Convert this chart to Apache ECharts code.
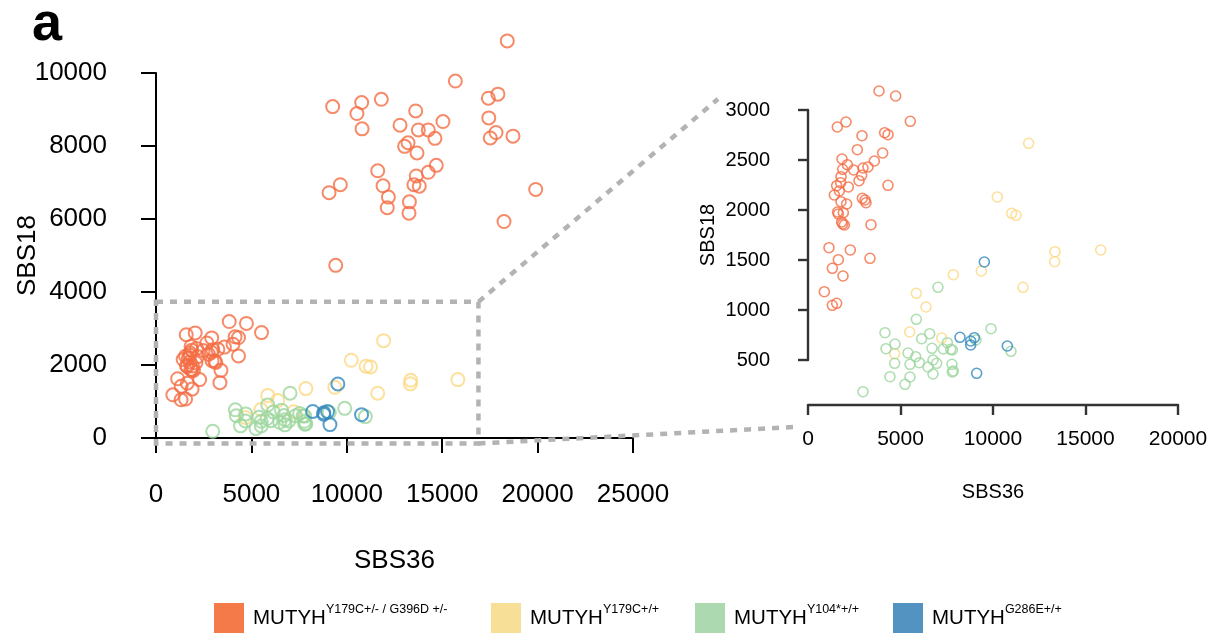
<!DOCTYPE html>
<html><head><meta charset="utf-8">
<script src="https://cdn.jsdelivr.net/npm/echarts@6/dist/echarts.min.js"></script>
<style>html,body{margin:0;padding:0;background:#fff}#c{width:1212px;height:633px}</style>
</head><body><div id="c"></div>
<script>
// ---- data ----
const groupSup = ['Y179C+/- / G396D +/-', 'Y179C+/+', 'Y104*+/+', 'G286E+/+'];
const pointColors = ['#F46D43', '#FDD882', '#9CD69D', '#3288BD'];
const legendColors = ['#F47A4A', '#F8DF98', '#ADD9B1', '#5393C1'];

const orangeX = [18410,15690,9260,10780,10530,11810,10800,13610,12790,13750,14270,15040,14620,13210,13030,13680,17420,17920,17440,17820,17520,18710,11620,14690,14270,13640,13520,13800,9660,9070,11900,12180,12120,13280,13260,19900,18240,9420,
 3838,4740,5530,1585,2054,2919,4144,4324,2666,4036,3586,1838,2126,3243,2973,2469,1874,2901,1784,2757,1766,1550,2180,4324,1423,1694,2937,3081,3135,1784,2090,1600,1640,1910,1820,1870,1964,3405,1135,2288,1640,3351,1315,1892,883,1315,1550];
const orangeY = [10880,9780,9080,9190,8890,9280,8470,8960,8570,8440,8440,8670,8210,8090,7990,7810,9310,9420,8770,8370,8220,8270,7320,7470,7280,7180,6940,6900,6940,6720,6910,6600,6310,6470,6160,6810,5930,4730,
 3190,3140,2887,2830,2880,2743,2773,2753,2603,2570,2490,2510,2453,2430,2420,2400,2407,2347,2333,2293,2273,2243,2230,2247,2150,2190,2117,2100,2073,2083,2060,1980,1960,1973,1880,1860,1850,1853,1623,1600,1503,1517,1417,1340,1183,1047,1067];

const yellowX = [11928,10233,11009,11243,13350,13334,15821,9369,11621,7855,5856,6378,5496,7225,4685];
const yellowY = [2667,2130,1967,1947,1583,1483,1600,1390,1227,1353,1167,1030,780,720,563];

const greenX = [9891,10973,7027,5856,4162,6577,6144,4703,7531,4216,6702,7315,7712,7801,9080,5405,5820,4685,5513,6018,6757,6955,6486,7783,7801,7855,6757,4432,5513,5243,2973];
const greenY = [813,587,1227,907,773,763,713,660,673,613,617,610,607,600,700,570,533,467,457,473,500,467,430,457,380,390,360,333,330,257,183];

const blueX = [9531,8216,8990,8793,8793,10773,9117];
const blueY = [1480,727,723,690,650,640,367];

// main axis ticks
const mainXTicks = [0, 25000, 5000];
const mainYTicks = [0, 10000, 2000];
const zoomXTicks = [0, 20000, 5000];
const zoomYTicks = [500, 3000, 500];

// zoom box (in main-plot data units) and connector ends (in zoom-plot data units)
const boxX = [0, 16900];
const boxY = [-150, 3730];
const linkTop = [-4865, 3110];
const linkBottom = [-700, -170];

// ---- chart ----
const FONT = 'Liberation Sans';
const allX = [orangeX, yellowX, greenX, blueX];
const allY = [orangeY, yellowY, greenY, blueY];
const names = groupSup.map(s => 'MUTYH ' + s);

function pairs(i, filt) {
  const out = [];
  for (let k = 0; k < allX[i].length; k++) {
    const x = allX[i][k], y = allY[i][k];
    if (!filt || (x >= boxX[0] && x <= boxX[1] && y >= boxY[0] && y <= boxY[1])) out.push([x, y]);
  }
  return out;
}

const series = [];
for (let i = 0; i < 4; i++) {
  series.push({
    type: 'scatter', name: names[i], xAxisIndex: 0, yAxisIndex: 0, data: pairs(i, false),
    symbol: 'circle', symbolSize: 13, clip: false,
    itemStyle: { color: 'rgba(0,0,0,0)', borderColor: pointColors[i], borderWidth: 2 },
    emphasis: { disabled: true }
  });
}
for (let i = 0; i < 4; i++) {
  series.push({
    type: 'scatter', name: names[i], xAxisIndex: 1, yAxisIndex: 1, data: pairs(i, true),
    symbol: 'circle', symbolSize: 10, clip: false,
    itemStyle: { color: 'rgba(0,0,0,0)', borderColor: pointColors[i], borderWidth: 1.6 },
    emphasis: { disabled: true }
  });
}

const legendLeft = [214, 491, 695, 893];
const legends = names.map((n, i) => ({
  data: [{ name: n, icon: 'rect', itemStyle: { color: legendColors[i], borderWidth: 0, opacity: 1 } }],
  left: legendLeft[i], top: 603, itemWidth: 30, itemHeight: 30, itemGap: 0, padding: 0,
  itemStyle: { opacity: 1 },
  formatter: () => '{m|MUTYH}{s|' + groupSup[i] + '}',
  textStyle: {
    padding: [0, 0, 0, 4],
    rich: {
      m: { fontSize: 20.5, fontFamily: FONT, color: '#000', lineHeight: 30 },
      s: { fontSize: 12.5, fontFamily: FONT, color: '#000', lineHeight: 13, verticalAlign: 'top' }
    }
  }
}));

function axisX(gi, t, off, tickLen, fs, margin, nameFs, nameGap, lw, col) {
  return {
    gridIndex: gi, type: 'value', min: t[0], max: t[1], interval: t[2], offset: off,
    axisLine: { show: true, lineStyle: { color: col, width: lw } },
    axisTick: { show: true, length: tickLen, lineStyle: { color: col, width: lw } },
    axisLabel: { fontSize: fs, fontFamily: FONT, color: '#000', margin: margin, formatter: v => String(v) },
    splitLine: { show: false },
    name: 'SBS36', nameLocation: 'middle', nameGap: nameGap, nameMoveOverlap: false,
    nameTextStyle: { fontSize: nameFs, fontFamily: FONT, color: '#000' }
  };
}
function axisY(gi, t, off, tickLen, fs, margin, nameFs, nameGap, lw, col) {
  const a = axisX(gi, t, off, tickLen, fs, margin, nameFs, nameGap, lw, col);
  a.name = 'SBS18';
  return a;
}

const option = {
  animation: false,
  backgroundColor: '#fff',
  grid: [
    { left: 156, top: 73, width: 477, height: 365, containLabel: false, outerBoundsMode: 'none' },
    { left: 808, top: 110, width: 370, height: 250, containLabel: false, outerBoundsMode: 'none' }
  ],
  xAxis: [
    axisX(0, mainXTicks, 13, 15, 26, 31, 26, 97, 2, '#000'),
    axisX(1, zoomXTicks, 45, 10, 21, 24, 20, 77, 2.4, '#333')
  ],
  yAxis: [
    axisY(0, mainYTicks, 19, 15, 26, 30, 26, 96, 2, '#000'),
    axisY(1, zoomYTicks, 18, 10, 20, 20, 20, 72, 2.4, '#333')
  ],
  legend: legends,
  graphic: [
    { id: 'panel', type: 'text', left: 32, top: -2,
      style: { text: 'a', font: 'bold 54px "Liberation Sans"', fill: '#000' } }
  ],
  series: series
};

const chart = echarts.init(document.getElementById('c'), null, { renderer: 'canvas' });
chart.setOption(option);

function overlay() {
  const p = (gi, v) => chart.convertToPixel({ gridIndex: gi }, v);
  const tl = p(0, [boxX[0], boxY[1]]);
  const br = p(0, [boxX[1], boxY[0]]);
  const a1 = p(1, linkTop);
  const a2 = p(1, linkBottom);
  const st = { stroke: '#B3B3B3', lineWidth: 4.5, lineDash: [7, 7], fill: null };
  chart.setOption({
    graphic: [
      { id: 'box', type: 'rect', z: 1, shape: { x: tl[0], y: tl[1], width: br[0] - tl[0], height: br[1] - tl[1] }, style: st },
      { id: 'l1', type: 'line', z: 1, shape: { x1: br[0], y1: tl[1], x2: a1[0], y2: a1[1] }, style: st },
      { id: 'l2', type: 'line', z: 1, shape: { x1: br[0], y1: br[1], x2: a2[0], y2: a2[1] }, style: st }
    ]
  });
}
overlay();
</script>
</body></html>
